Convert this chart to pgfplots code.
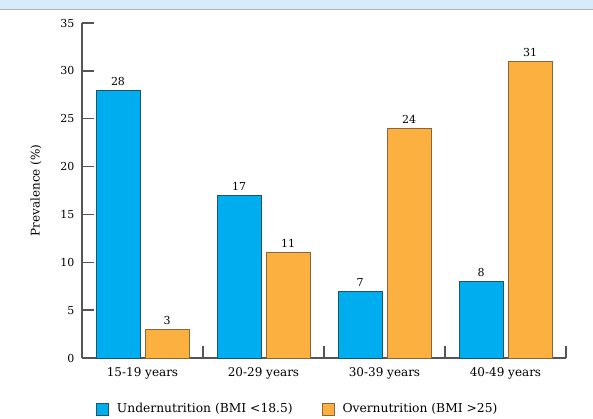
\documentclass[border=0pt]{standalone}
\usepackage{fontspec}
\setmainfont{DejaVu Serif}
\usepackage{pgfplots}
\pgfplotsset{compat=1.18}
\definecolor{barblue}{HTML}{00AEEF}
\definecolor{barorange}{HTML}{FBB040}
\definecolor{blueedge}{HTML}{1C5566}
\definecolor{orangeedge}{HTML}{86683C}
\definecolor{axgray}{HTML}{555555}
\definecolor{band}{HTML}{D6ECF8}
\newcommand{\tfont}{\fontsize{11}{13}\selectfont}
\newcommand{\lfont}{\fontsize{12}{14}\selectfont}
\newcommand{\gfont}{\fontsize{12.3}{14}\selectfont}
\begin{document}
\begin{tikzpicture}[x=1pt,y=1pt]
\path[use as bounding box] (0,0) rectangle (593,418);
\fill[band] (0,409) rectangle (593,418);
\draw[color=black!30, line width=1pt] (0,408.5) -- (593,408.5);
\begin{axis}[
  at={(82pt,60pt)}, anchor=south west, scale only axis,
  width=484pt, height=335pt,
  /pgf/number format/assume math mode=true,
  ybar=5pt, bar width=44pt,
  xmin=-0.5, xmax=3.5, ymin=0, ymax=35,
  axis x line*=bottom, axis y line*=left,
  axis line style={axgray, line width=1.3pt, -},
  tick align=inside,
  xtick={0.5,1.5,2.5,3.5}, xticklabels={},
  x tick style={axgray, line width=1.3pt}, 
  extra x ticks={0,1,2,3},
  extra x tick labels={15-19 years,20-29 years,30-39 years,40-49 years},
  extra x tick style={major tick length=0pt, tick style={draw=none},
     ticklabel style={font=\lfont, yshift=-6pt}},
  ytick={0,5,...,35},
  y tick style={axgray, line width=1.3pt},
  major tick length=12pt,
  yticklabel style={font=\tfont, xshift=-4pt},
  ylabel={Prevalence (\%)}, ylabel style={font=\lfont, yshift=12pt},
  nodes near coords, nodes near coords style={font=\tfont, yshift=1pt},
  legend style={at={(axis description cs:0.0289,-0.1522)}, anchor=west,
     draw=none, fill=none, inner sep=0pt, font=\gfont, legend columns=2,
     /tikz/every odd column/.append style={column sep=6pt},
     /tikz/every even column/.append style={column sep=27pt}},
]
\addplot[fill=barblue, draw=blueedge, line width=0.8pt,
  legend image code/.code={\draw[fill=barblue, draw=blueedge, line width=0.8pt] (0pt,-6pt) rectangle (12pt,6pt);}]
  coordinates {(0,28) (1,17) (2,7) (3,8)};
\addplot[fill=barorange, draw=orangeedge, line width=0.8pt,
  legend image code/.code={\draw[fill=barorange, draw=orangeedge, line width=0.8pt] (0pt,-6pt) rectangle (12pt,6pt);}]
  coordinates {(0,3) (1,11) (2,24) (3,31)};
\legend{Undernutrition (BMI <18.5),Overnutrition (BMI >25)}
\end{axis}
\end{tikzpicture}
\end{document}
